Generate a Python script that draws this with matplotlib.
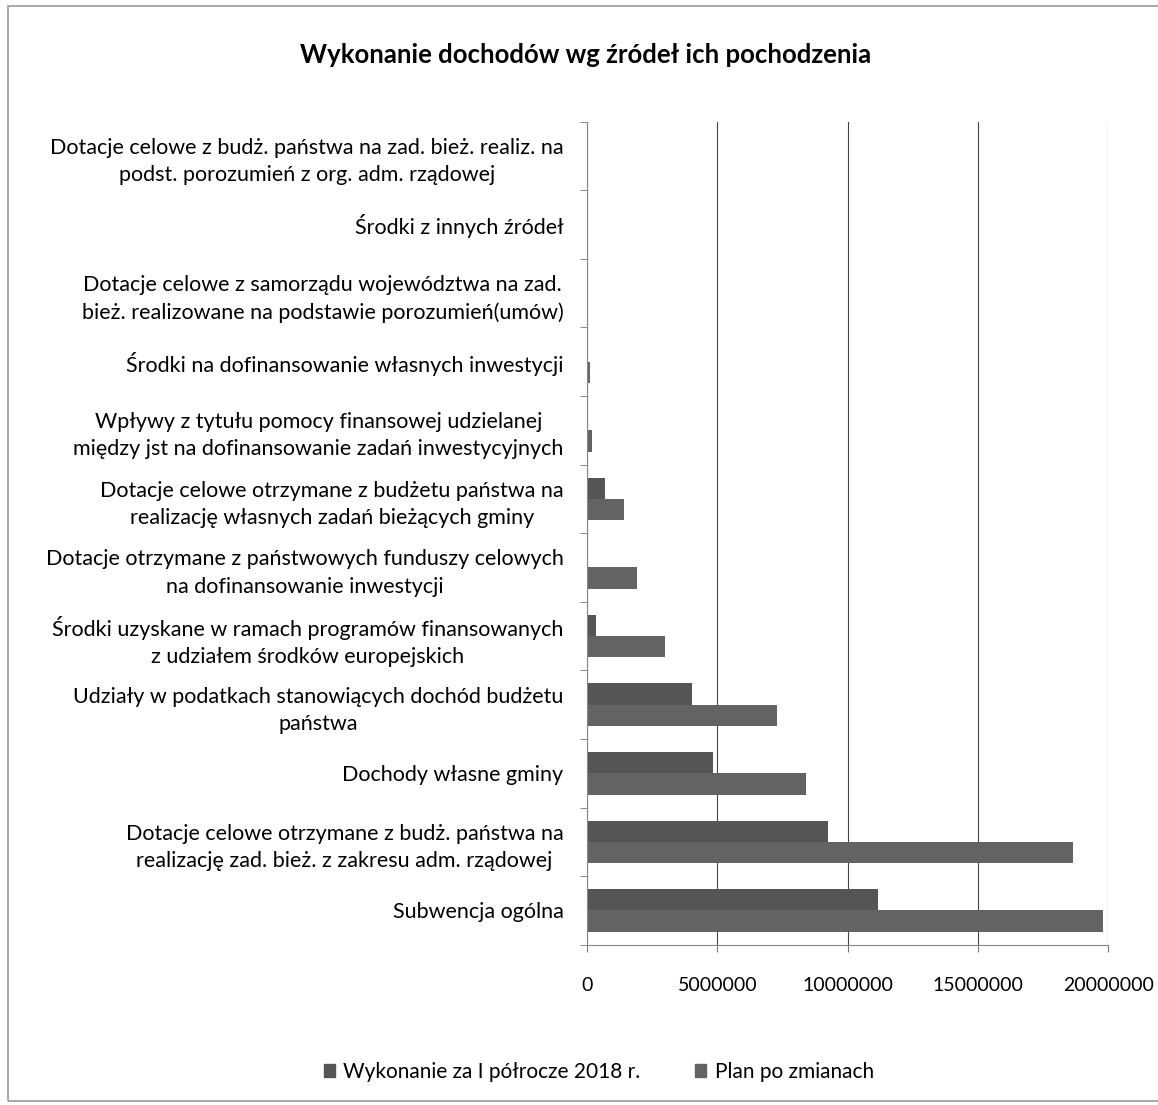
import matplotlib
matplotlib.use("Agg")
import matplotlib.pyplot as plt
import numpy as np
from matplotlib.patches import Rectangle

plt.rcParams['font.family'] = ['Lato', 'DejaVu Sans']

categories = [
    "Subwencja ogólna",
    "Dotacje celowe otrzymane z budż. państwa na\nrealizację zad. bież. z zakresu adm. rządowej",
    "Dochody własne gminy",
    "Udziały w podatkach stanowiących dochód budżetu\npaństwa",
    "Środki uzyskane w ramach programów finansowanych\nz udziałem środków europejskich",
    "Dotacje otrzymane z państwowych funduszy celowych\nna dofinansowanie inwestycji",
    "Dotacje celowe otrzymane z budżetu państwa na\nrealizację własnych zadań bieżących gminy",
    "Wpływy z tytułu pomocy finansowej udzielanej\nmiędzy jst na dofinansowanie zadań inwestycyjnych",
    "Środki na dofinansowanie własnych inwestycji",
    "Dotacje celowe z samorządu województwa na zad.\nbież. realizowane na podstawie porozumień(umów)",
    "Środki z innych źródeł",
    "Dotacje celowe z budż. państwa na zad. bież. realiz. na\npodst. porozumień z org. adm. rządowej",
]
wykonanie = [11150000, 9230000, 4820000, 4040000, 350000, 0, 690000, 50000, 20000, 15000, 10000, 8000]
plan = [19800000, 18650000, 8400000, 7270000, 3000000, 1920000, 1420000, 190000, 100000, 30000, 30000, 20000]
series_names = ["Wykonanie za I półrocze 2018 r.", "Plan po zmianach"]
xticks = [0, 5000000, 10000000, 15000000, 20000000]
title = "Wykonanie dochodów wg źródeł ich pochodzenia"

fig = plt.figure(figsize=(11.58, 11.05), dpi=100)
ax = fig.add_axes([0.507, 0.145, 0.450, 0.745])

y = np.arange(len(categories))
h = 0.31
ax.barh(y + h / 2, wykonanie, height=h, color='#555555', label=series_names[0])
ax.barh(y - h / 2, plan, height=h, color='#636363', label=series_names[1])

ax.set_xlim(0, 20000000)
ax.set_ylim(-0.5, len(categories) - 0.5)
ax.set_xticks(xticks)
ax.set_xticklabels([str(v) for v in xticks], fontsize=14)
ax.set_yticks(y)
ax.set_yticklabels(categories, fontsize=15.5)
for lab in ax.get_yticklabels():
    lab.set_multialignment('center')
    lab.set_linespacing(1.45)
ax.set_yticks(np.arange(len(categories) + 1) - 0.5, minor=True)
ax.tick_params(axis='y', which='major', length=0, pad=17)
ax.tick_params(axis='y', which='minor', length=5, color='#777777', direction='out')
ax.tick_params(axis='x', which='major', length=5, color='#777777', pad=18)
ax.grid(axis='x', color='#444444', linewidth=0.8)
ax.set_axisbelow(True)
for s in ['top', 'right']:
    ax.spines[s].set_visible(False)
for s in ['left', 'bottom']:
    ax.spines[s].set_color('#888888')

fig.text(0.506, 0.950, title, ha='center', va='center', fontsize=18.5, fontweight='bold')

handles = [Rectangle((0, 0), 1, 1, color='#555555'), Rectangle((0, 0), 1, 1, color='#636363')]
fig.legend(handles, series_names, loc='center', bbox_to_anchor=(0.517, 0.030), ncol=2,
           frameon=False, fontsize=15, handlelength=0.55, handleheight=0.55,
           columnspacing=2.6, handletextpad=0.4)

border = Rectangle((0.007, 0.004), 1.1, 0.991, transform=fig.transFigure, fill=False,
                   edgecolor='#999999', linewidth=1.2)
fig.patches.append(border)

fig.savefig("out.png", dpi=100)
